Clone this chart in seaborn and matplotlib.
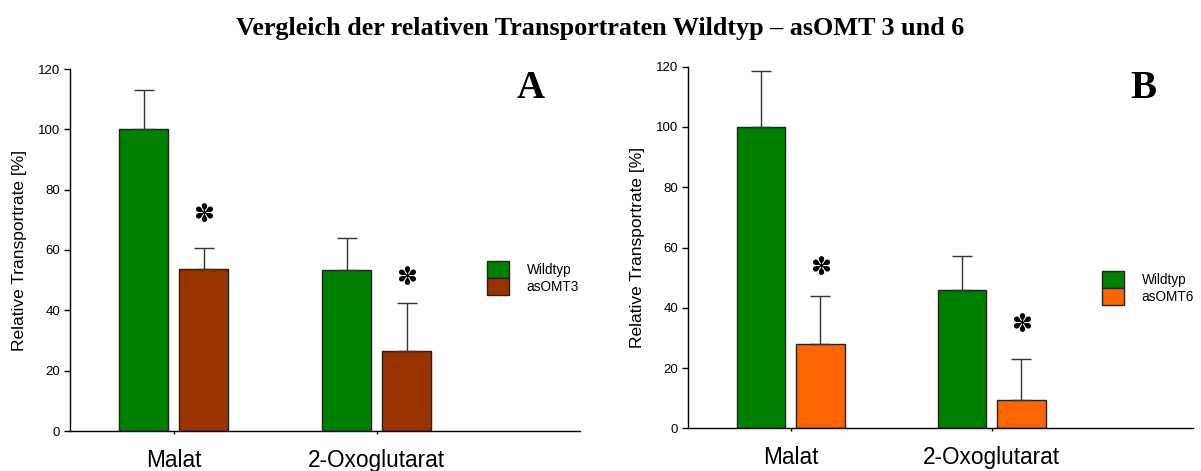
import matplotlib
matplotlib.use("Agg")
import matplotlib.pyplot as plt
import seaborn as sns
import pandas as pd

# Data
categories = ["Malat", "2-Oxoglutarat"]
wildtyp_a = [100.0, 53.5]
wildtyp_a_err = [13.1, 10.6]
asomt3 = [53.7, 26.4]
asomt3_err = [7.1, 16.1]
wildtyp_b = [100.0, 45.9]
wildtyp_b_err = [18.6, 11.2]
asomt6 = [28.0, 9.4]
asomt6_err = [16.0, 13.6]
star_a = [71.5, 50.7]
star_b = [53.2, 34.3]
y_ticks = [0, 20, 40, 60, 80, 100, 120]

GREEN = "#008000"
BROWN = "#993300"
ORANGE = "#FF6600"

sns.set_style("white")
plt.rcParams["font.family"] = ["Liberation Sans", "DejaVu Sans"]
plt.rcParams["text.color"] = "black"
plt.rcParams["axes.labelcolor"] = "black"
plt.rcParams["xtick.color"] = "black"
plt.rcParams["ytick.color"] = "black"

fig = plt.figure(figsize=(12.01, 4.71), dpi=100)
W, H = 1201, 471


def axes_px(left, right, top, bottom):
    return fig.add_axes([left / W, 1 - bottom / H, (right - left) / W, (bottom - top) / H])


def panel(ax, wt, wt_err, mut, mut_err, mut_name, mut_color, stars, letter,
          legend_xy, letter_xy):
    df = pd.DataFrame({
        "Substrat": categories * 2,
        "Linie": ["Wildtyp"] * len(categories) + [mut_name] * len(categories),
        "Wert": list(wt) + list(mut),
    })
    sns.barplot(data=df, x="Substrat", y="Wert", hue="Linie",
                palette=[GREEN, mut_color], width=0.59, gap=0.183,
                errorbar=None, edgecolor="#222222", linewidth=1.0,
                saturation=1, ax=ax)
    errs = list(wt_err) + list(mut_err)
    vals = list(wt) + list(mut)
    bars = [p for p in ax.patches if p.get_height() > 0][:len(vals)]
    for bar, v, e in zip(bars, vals, errs):
        xc = bar.get_x() + bar.get_width() / 2
        ax.errorbar([xc], [v], yerr=[[0], [e]], fmt="none", ecolor="#333333",
                    elinewidth=1.0, capsize=7, capthick=1.0, zorder=1)
    mut_bars = bars[len(categories):]
    for bar, s in zip(mut_bars, stars):
        xc = bar.get_x() + bar.get_width() / 2
        ax.text(xc, s, "\u273D", ha="center", va="center", fontsize=18,
                family="DejaVu Sans", color="black")

    ax.set_ylim(0, 120)
    ax.set_xlim(-0.51, 2.0)
    ax.set_yticks(y_ticks)
    ax.set_yticklabels([str(t) for t in y_ticks], fontsize=9.5)
    ax.set_xticks(range(len(categories)))
    ax.set_xticklabels(categories, fontsize=16.3)
    ax.set_xlabel("")
    ax.set_ylabel("Relative Transportrate [%]", fontsize=12.5, labelpad=8)
    for side in ("top", "right"):
        ax.spines[side].set_visible(False)
    for side in ("left", "bottom"):
        ax.spines[side].set_color("black")
        ax.spines[side].set_linewidth(1.0)
    ax.tick_params(axis="y", direction="out", length=4, width=1, color="black",
                   left=True, pad=3)
    ax.tick_params(axis="x", direction="out", length=2, width=1, color="black",
                   bottom=True, pad=11)

    handles, labels = ax.get_legend_handles_labels()
    ax.legend(handles, labels, loc="upper left",
              bbox_to_anchor=(legend_xy[0] / W, 1 - legend_xy[1] / H),
              bbox_transform=fig.transFigure, frameon=False, fontsize=9.8,
              handlelength=1.6, handleheight=1.55, labelspacing=0.0,
              handletextpad=1.3, borderpad=0, borderaxespad=0)
    fig.text(letter_xy[0] / W, 1 - letter_xy[1] / H, letter, ha="center",
             va="center", fontsize=28, fontweight="bold",
             family="Liberation Serif")


ax_a = axes_px(70, 580, 69, 431)
panel(ax_a, wildtyp_a, wildtyp_a_err, asomt3, asomt3_err, "asOMT3", BROWN,
      star_a, "A", (487, 261), (531, 88))

ax_b = axes_px(688, 1193, 66.7, 428.3)
panel(ax_b, wildtyp_b, wildtyp_b_err, asomt6, asomt6_err, "asOMT6", ORANGE,
      star_b, "B", (1102, 271), (1143, 88))

fig.text(0.5, 1 - 28 / H, "Vergleich der relativen Transportraten Wildtyp \u2013 asOMT 3 und 6",
         ha="center", va="center", fontsize=18.8, fontweight="bold",
         family="Liberation Serif")

fig.savefig("out.png", dpi=100, facecolor="white")
